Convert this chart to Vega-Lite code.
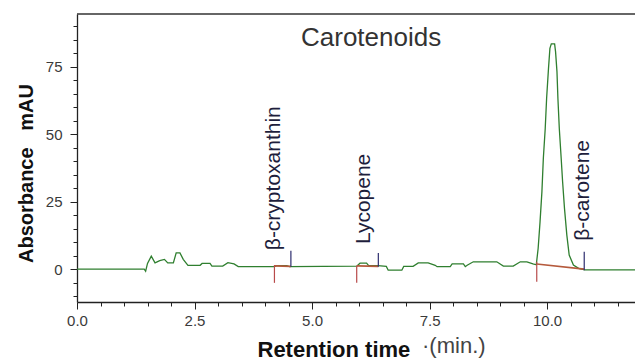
{
  "$schema": "https://vega.github.io/schema/vega-lite/v6.json",
  "autosize": {"type": "none"},
  "padding": {"left": 77, "top": 14, "right": 0, "bottom": 58},
  "width": 558,
  "height": 288,
  "background": "white",
  "config": {
    "font": "Liberation Sans",
    "view": {"stroke": null},
    "axis": {"grid": false, "domainColor": "#222", "domainWidth": 1.3, "tickColor": "#222", "tickWidth": 1, "tickSize": 7, "labelColor": "#3a3a3a", "labelFontSize": 15, "labelFont": "Liberation Sans", "titleFont": "Liberation Sans", "titleColor": "#111"}
  },
  "title": {"text": "Carotenoids", "frame": "group", "anchor": "start", "dx": 224, "dy": 26, "offset": -33, "baseline": "alphabetic", "fontSize": 26, "fontWeight": "normal", "color": "#333", "font": "Liberation Sans"},
  "datasets": {
    "trace": [
      {"t": 0, "a": 0}, {"t": 1.43, "a": 0}, {"t": 1.46, "a": -0.8}, {"t": 1.5, "a": 2.1}, {"t": 1.58, "a": 4.8},
      {"t": 1.66, "a": 2.3}, {"t": 1.76, "a": 3.1}, {"t": 1.86, "a": 3.6}, {"t": 1.93, "a": 2.3}, {"t": 2.05, "a": 2.3},
      {"t": 2.11, "a": 6.0}, {"t": 2.19, "a": 6.0}, {"t": 2.26, "a": 3.6}, {"t": 2.36, "a": 1.4}, {"t": 2.62, "a": 1.4},
      {"t": 2.66, "a": 2.1}, {"t": 2.83, "a": 2.1}, {"t": 2.87, "a": 1.1}, {"t": 3.1, "a": 1.1}, {"t": 3.21, "a": 2.4},
      {"t": 3.34, "a": 1.9}, {"t": 3.43, "a": 0.9}, {"t": 4.2, "a": 0.9}, {"t": 4.25, "a": 1.3}, {"t": 4.46, "a": 1.3},
      {"t": 4.52, "a": 0.9}, {"t": 5.95, "a": 1.1}, {"t": 6.02, "a": 2.2}, {"t": 6.16, "a": 2.2}, {"t": 6.2, "a": 1.4},
      {"t": 6.4, "a": 1.3}, {"t": 6.58, "a": 1.0}, {"t": 6.62, "a": -0.4}, {"t": 6.91, "a": -0.4}, {"t": 6.95, "a": 1.0},
      {"t": 7.15, "a": 1.0}, {"t": 7.26, "a": 2.3}, {"t": 7.47, "a": 2.3}, {"t": 7.62, "a": 1.4}, {"t": 7.66, "a": 0.9},
      {"t": 7.94, "a": 0.9}, {"t": 7.98, "a": 1.9}, {"t": 8.22, "a": 1.9}, {"t": 8.26, "a": 0.9}, {"t": 8.3, "a": 1.4},
      {"t": 8.43, "a": 2.7}, {"t": 8.93, "a": 2.7}, {"t": 9.07, "a": 1.1}, {"t": 9.28, "a": 1.1}, {"t": 9.43, "a": 2.7},
      {"t": 9.57, "a": 2.7}, {"t": 9.7, "a": 1.9}, {"t": 9.77, "a": 1.6}, {"t": 9.81, "a": 7.7}, {"t": 9.85, "a": 17.5},
      {"t": 9.89, "a": 28.7}, {"t": 9.92, "a": 41}, {"t": 9.96, "a": 52}, {"t": 9.99, "a": 63.3}, {"t": 10.03, "a": 74.4},
      {"t": 10.06, "a": 81.8}, {"t": 10.09, "a": 83.5}, {"t": 10.16, "a": 83.5}, {"t": 10.18, "a": 80.6}, {"t": 10.21, "a": 73.2},
      {"t": 10.23, "a": 63.3}, {"t": 10.26, "a": 52}, {"t": 10.3, "a": 41}, {"t": 10.33, "a": 32.4}, {"t": 10.37, "a": 22.5},
      {"t": 10.42, "a": 12.6}, {"t": 10.47, "a": 5.2}, {"t": 10.56, "a": 1.5}, {"t": 10.67, "a": 0.3}, {"t": 10.8, "a": -0.3},
      {"t": 11.87, "a": -0.3}
    ],
    "frame": [{"t": 0, "a": 94.55, "t2": 11.87, "a2": 94.55}],
    "baselines": [
      {"peak": "β-cryptoxanthin", "t": 4.2, "a": 1.2, "t2": 4.55, "a2": 1.0},
      {"peak": "Lycopene", "t": 5.95, "a": 1.2, "t2": 6.41, "a2": 1.0},
      {"peak": "β-carotene", "t": 9.78, "a": 1.9, "t2": 10.79, "a2": 0.0}
    ],
    "markers": [
      {"peak": "β-cryptoxanthin", "kind": "start", "t": 4.2, "a": 1.5, "a2": -5.1},
      {"peak": "Lycopene", "kind": "start", "t": 5.95, "a": 1.1, "a2": -5.1},
      {"peak": "β-carotene", "kind": "start", "t": 9.78, "a": 2.7, "a2": -4.7},
      {"peak": "β-cryptoxanthin", "kind": "end", "t": 4.55, "a": 0.9, "a2": 6.8},
      {"peak": "Lycopene", "kind": "end", "t": 6.41, "a": 0.9, "a2": 6.0},
      {"peak": "β-carotene", "kind": "end", "t": 10.79, "a": -0.4, "a2": 6.4}
    ],
    "labels": [
      {"label": "β-cryptoxanthin", "t": 4.32, "a": 7.0},
      {"label": "Lycopene", "t": 6.23, "a": 9.3},
      {"label": "β-carotene", "t": 10.89, "a": 10.5}
    ],
    "notes": [
      {"note": "·(min.)", "t": 7.34, "a": -31.2}
    ]
  },
  "encoding": {
    "x": {"field": "t", "type": "quantitative",
      "scale": {"domain": [0, 11.87], "nice": false, "zero": false},
      "axis": {
        "title": "Retention time", "titleFontSize": 22, "titleFontWeight": "bold",
        "titleX": 180, "titleY": 54, "titleAlign": "left", "titleBaseline": "alphabetic",
        "values": [0,0.5,1,1.5,2,2.5,3,3.5,4,4.5,5,5.5,6,6.5,7,7.5,8,8.5,9,9.5,10,10.5,11,11.5],
        "format": ".1f",
        "labelExpr": "abs(datum.value/2.5 - round(datum.value/2.5)) < 0.000001 ? datum.label : ''",
        "labelOverlap": false, "labelFlush": false, "labelPadding": 4,
        "tickDash": {"condition": {"test": "abs(datum.value/2.5 - round(datum.value/2.5)) < 0.000001", "value": [12, 1]}, "value": [4, 20]}
      }
    },
    "y": {"field": "a", "type": "quantitative",
      "scale": {"domain": [-12.2, 94.55], "nice": false, "zero": false},
      "axis": {
        "title": "Absorbance\u00a0\u00a0\u00a0mAU", "titleFontSize": 20, "titleFontWeight": "bold",
        "titleX": -45, "titleY": 159, "titleAlign": "center", "titleBaseline": "alphabetic", "titleAngle": -90,
        "values": [-10,-5,0,5,10,15,20,25,30,35,40,45,50,55,60,65,70,75,80,85,90],
        "labelExpr": "datum.value % 25 === 0 ? datum.label : ''",
        "labelOverlap": false, "labelPadding": 8,
        "tickDash": {"condition": {"test": "datum.value % 25 === 0", "value": [12, 1]}, "value": [4, 20]}
      }
    }
  },
  "layer": [
    {
      "data": {"name": "trace"},
      "mark": {"type": "line", "color": "#2f7f2f", "strokeWidth": 1.3}
    },
    {
      "data": {"name": "frame"},
      "mark": {"type": "rule", "color": "#333", "strokeWidth": 1.5},
      "encoding": {"x2": {"field": "t2"}, "y2": {"field": "a2"}}
    },
    {
      "data": {"name": "baselines"},
      "mark": {"type": "rule", "color": "#b55a3c", "strokeWidth": 1.6},
      "encoding": {"x2": {"field": "t2"}, "y2": {"field": "a2"}}
    },
    {
      "data": {"name": "markers"},
      "mark": {"type": "rule", "strokeWidth": 1.2},
      "encoding": {
        "y2": {"field": "a2"},
        "color": {"field": "kind", "type": "nominal", "scale": {"domain": ["start", "end"], "range": ["#b84a4a", "#2d2d6e"]}, "legend": null}
      }
    },
    {
      "data": {"name": "labels"},
      "mark": {"type": "text", "angle": 270, "align": "left", "baseline": "alphabetic", "fontSize": 21, "color": "#1e1e3c", "font": "Liberation Sans"},
      "encoding": {"text": {"field": "label"}}
    },
    {
      "data": {"name": "notes"},
      "mark": {"type": "text", "align": "left", "baseline": "alphabetic", "fontSize": 22, "color": "#444", "font": "Liberation Sans"},
      "encoding": {"text": {"field": "note"}}
    }
  ]
}
